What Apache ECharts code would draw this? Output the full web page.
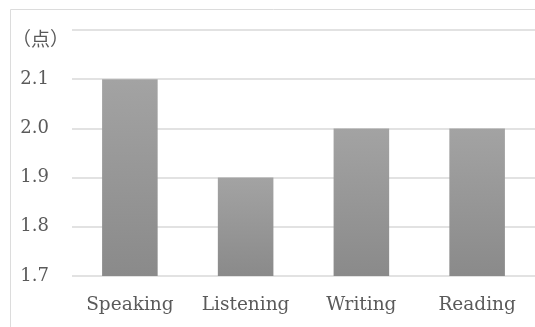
<!DOCTYPE html>
<html>
<head>
<meta charset="utf-8">
<script src="https://cdn.jsdelivr.net/npm/echarts@6/dist/echarts.min.js"></script>
<style>
  html, body { margin: 0; padding: 0; background: #fff; }
  #chart { width: 535px; height: 327px; }
</style>
</head>
<body>
<div id="chart"></div>
<script>
// Skill categories and their average scores
const categories = ['Speaking', 'Listening', 'Writing', 'Reading'];
const scores = [2.1, 1.9, 2.0, 2.0];
const unitLabel = '（点）';
const yMin = 1.7, yMax = 2.2, yStep = 0.1;

const chart = echarts.init(document.getElementById('chart'), null, { renderer: 'canvas' });
const serif = 'DejaVu Serif';

chart.setOption({
  animation: false,
  backgroundColor: '#ffffff',
  graphic: [
    {
      type: 'rect',
      shape: { x: 10.5, y: 9.5, width: 540, height: 330 },
      style: { fill: 'none', stroke: '#dcdcdc', lineWidth: 1 }
    },
    {
      type: 'text',
      left: 12, top: 29,
      style: { text: unitLabel, font: '19px "Noto Sans CJK JP"', fill: '#595959' }
    }
  ],
  grid: { left: 72, right: 0, top: 30, bottom: 51 },
  xAxis: {
    type: 'category',
    data: categories,
    axisLine: { show: false },
    axisTick: { show: false },
    axisLabel: { color: '#5a5a5a', fontFamily: serif, fontSize: 18.5, margin: 20 }
  },
  yAxis: {
    type: 'value',
    min: yMin, max: yMax, interval: yStep,
    axisLine: { show: false },
    axisTick: { show: false },
    splitLine: { lineStyle: { color: '#e2e2e2', width: 2 } },
    axisLabel: {
      color: '#5a5a5a', fontFamily: serif, fontSize: 18, margin: 23,
      formatter: v => (Math.abs(v - yMax) < 1e-9 ? '' : v.toFixed(1))
    }
  },
  series: [{
    type: 'bar',
    data: scores,
    barCategoryGap: '52%',
    itemStyle: {
      color: new echarts.graphic.LinearGradient(0, 0, 0, 1, [
        { offset: 0, color: '#a3a3a3' },
        { offset: 1, color: '#8a8a8a' }
      ])
    }
  }]
});
</script>
</body>
</html>
